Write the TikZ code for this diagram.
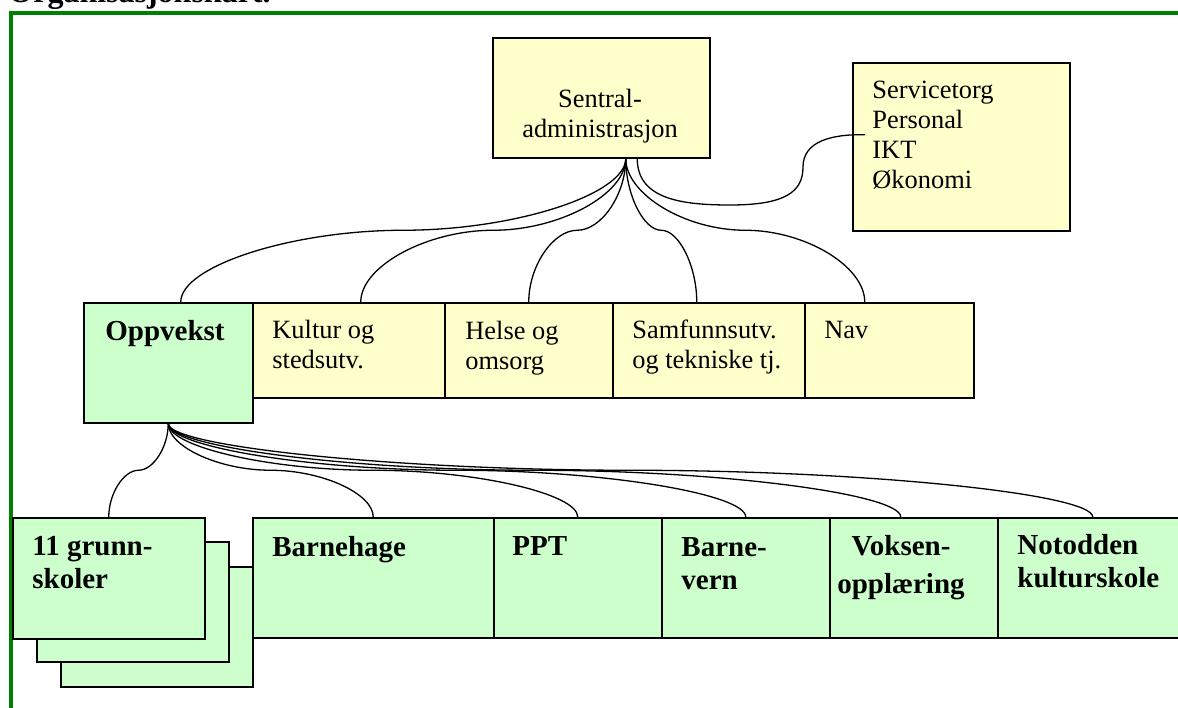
\documentclass[tikz,border=0pt]{standalone}
\usepackage{fontspec}
\setmainfont{Liberation Serif}
\usetikzlibrary{calc}

\definecolor{paleyellow}{RGB}{255,255,204}
\definecolor{palegreen}{RGB}{204,255,204}
\definecolor{framegreen}{RGB}{0,128,0}

\tikzset{
  ybox/.style={draw, fill=paleyellow, line width=0.75pt, inner sep=0pt, anchor=north west},
  gbox/.style={draw, fill=palegreen, line width=0.75pt, inner sep=0pt, anchor=north west},
  lbl/.style={inner sep=0pt, anchor=base west, align=left, font=\fontsize{13.2}{15}\selectfont},
  blbl/.style={inner sep=0pt, anchor=base west, align=left, font=\fontsize{14.5}{16.5}\selectfont\bfseries},
  curved/.style={line width=0.65pt, to path={let \p1=(\tikztostart), \p2=(\tikztotarget) in
    .. controls (\x1,{0.75*\y1+0.25*\y2}) and ({0.75*\x1+0.25*\x2},{0.5*\y1+0.5*\y2})
    .. ({0.5*\x1+0.5*\x2},{0.5*\y1+0.5*\y2})
    .. controls ({0.25*\x1+0.75*\x2},{0.5*\y1+0.5*\y2}) and (\x2,{0.25*\y1+0.75*\y2})
    .. (\tikztotarget)}}
}

\begin{document}
\begin{tikzpicture}[x=0.5pt, y=-0.5pt]
\useasboundingbox (0,0) rectangle (1178,707);

% title and frame (multi-line labels sit on their last baseline)
\node[blbl, font=\fontsize{16}{18}\selectfont\bfseries] (title) at (8,2) {Organisasjonskart.};
\draw[framegreen, line width=1.75pt] (11,13) rectangle (1200,730);

% top
\node[ybox, minimum width=108.5pt, minimum height=60pt] (sentral) at (492,37) {};
\node[lbl, align=center, anchor=base] (tsentral) at (600,137) {Sentral-\\administrasjon};
\node[ybox, minimum width=108.5pt, minimum height=84pt] (serv) at (852,62) {};
\node[lbl] (tserv) at (872,188) {Servicetorg\\Personal\\IKT\\Økonomi};

% sectors
\node[gbox, minimum width=84.5pt, minimum height=60pt] (oppvekst) at (83,302) {};
\node[ybox, minimum width=96pt, minimum height=47.5pt] (kultur) at (252,302) {};
\node[ybox, minimum width=84pt, minimum height=47.5pt] (helse) at (444,302) {};
\node[ybox, minimum width=96pt, minimum height=47.5pt] (samfunn) at (612,302) {};
\node[ybox, minimum width=84.5pt, minimum height=47.5pt] (nav) at (804,302) {};
\node[blbl] (toppvekst) at (105,340) {Oppvekst};
\node[lbl] (tkultur) at (272,368) {Kultur og\\stedsutv.};
\node[lbl] (thelse) at (465,369) {Helse og\\omsorg};
\node[lbl] (tsamfunn) at (632,368) {Samfunnsutv.\\og tekniske tj.};
\node[lbl] (tnav) at (824,338) {Nav};

% units under oppvekst
\node[gbox, minimum width=96pt, minimum height=60pt] (grunn3) at (60,566) {};
\node[gbox, minimum width=96pt, minimum height=60pt] (grunn2) at (36,541) {};
\node[gbox, minimum width=96pt, minimum height=60.5pt] (grunn) at (12,517) {};
\node[gbox, minimum width=120.5pt, minimum height=60pt] (barnehage) at (252,517) {};
\node[gbox, minimum width=84pt, minimum height=60pt] (ppt) at (493,517) {};
\node[gbox, minimum width=84pt, minimum height=60pt] (barnevern) at (661,517) {};
\node[gbox, minimum width=84pt, minimum height=60pt] (voksen) at (829,517) {};
\node[gbox, minimum width=95pt, minimum height=60pt] (kulturskole) at (997,517) {};
\node[blbl] (tgrunn) at (32,588) {11 grunn-\\skoler};
\node[blbl] (tbarnehage) at (272,556) {Barnehage};
\node[blbl] (tppt) at (512,555) {PPT};
\node[blbl] (tbarnevern) at (681,589) {Barne-\\vern};
\node[blbl, align=center, anchor=base] (tvoksen) at (901,593) {Voksen-\\[2.5pt]opplæring};
\node[blbl] (tkulturskole) at (1017,587) {Notodden\\kulturskole};

% connectors
\foreach \dest/\dx in {oppvekst/6.25, kultur/6, helse/0, samfunn/-6, nav/-12.25}
  \draw[curved] ([xshift=12.25pt]sentral.south) to ([xshift=\dx pt]\dest.north);
\foreach \dest/\dx in {grunn/0, barnehage/0, ppt/0, barnevern/0, voksen/-6.5, kulturskole/0}
  \draw[curved] (oppvekst.south) to ([xshift=\dx pt]\dest.north);
\draw[line width=0.65pt] ([xshift=18pt]sentral.south) .. controls +(0,40) and (680,205) .. (730,205)
  .. controls (785,205) and (803,192) .. (803,167) .. controls (803,142) and (830,134) .. ([xshift=6.5pt,yshift=6pt]serv.west);
\end{tikzpicture}
\end{document}
